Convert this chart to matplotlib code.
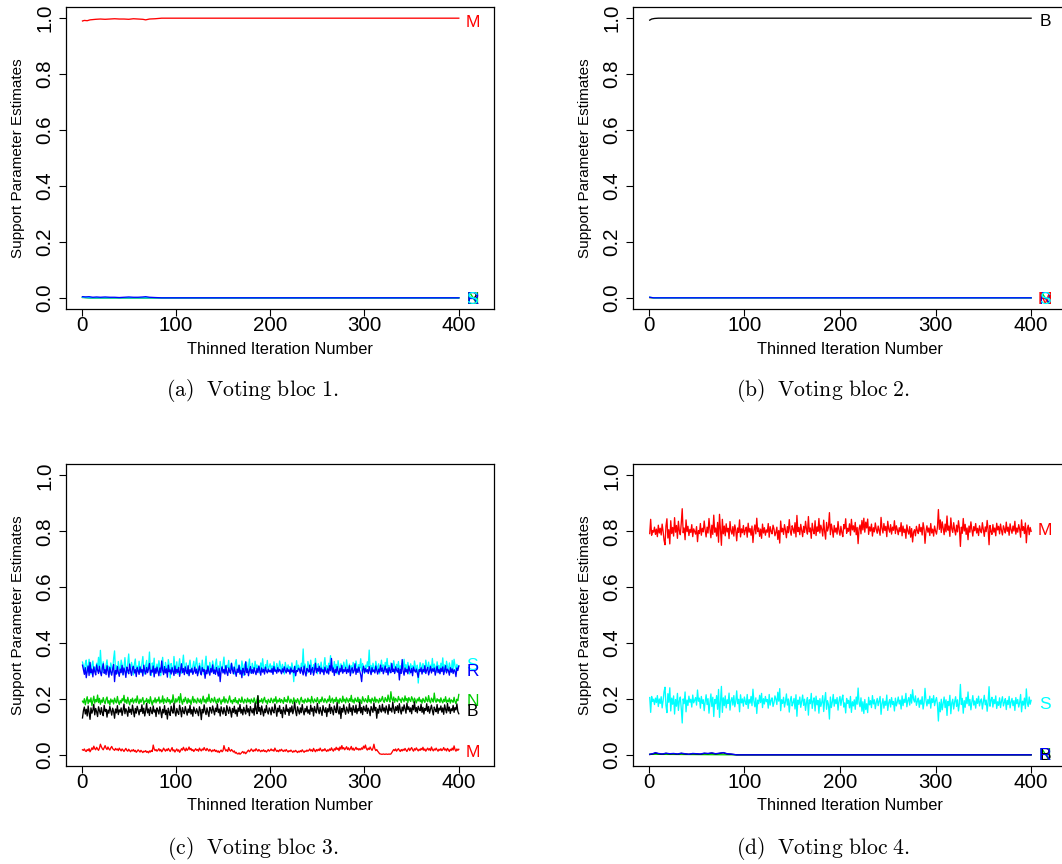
import numpy as np
import matplotlib
matplotlib.use('Agg')
import matplotlib.pyplot as plt
from matplotlib.ticker import FormatStrFormatter

plt.rcParams['font.family'] = ['Liberation Sans', 'DejaVu Sans']
plt.rcParams['mathtext.fontset'] = 'cm'

# ---------------- data ----------------
xticks = [0, 100, 200, 300, 400]
yticks = [0.0, 0.2, 0.4, 0.6, 0.8, 1.0]
xlabel = 'Thinned Iteration Number'
ylabel = 'Support Parameter Estimates'
captions = ['(a)\\ \\ Voting\\ bloc\\ 1.', '(b)\\ \\ Voting\\ bloc\\ 2.',
            '(c)\\ \\ Voting\\ bloc\\ 3.', '(d)\\ \\ Voting\\ bloc\\ 4.']
colors = {'B': '#000000', 'M': '#FF0000', 'N': '#00CD00', 'R': '#0000FF', 'S': '#00FFFF'}

# Panel (a): bloc 1 (near-constant traces, given at breakpoints)
a_M_x = [1, 3, 6, 9, 12, 15, 20, 25, 30, 35, 40, 45, 50, 55, 60, 65, 68, 72, 78, 85, 400]
a_M = [0.990, 0.992, 0.991, 0.994, 0.995, 0.996, 0.997, 0.996, 0.997, 0.998, 0.997,
       0.997, 0.996, 0.998, 0.997, 0.996, 0.994, 0.997, 0.998, 1.0, 1.0]
a_R_x = [1, 4, 8, 12, 16, 20, 25, 30, 35, 40, 45, 50, 55, 60, 65, 68, 72, 78, 85, 400]
a_R = [0.004, 0.003, 0.004, 0.002, 0.003, 0.002, 0.003, 0.002, 0.002, 0.001,
       0.002, 0.003, 0.002, 0.002, 0.003, 0.004, 0.002, 0.001, 0.0, 0.0]
a_low_x = [1, 10, 400]
a_B = [0.002, 0.0, 0.0]
a_N = [0.001, 0.0, 0.0]
a_S = [0.002, 0.0, 0.0]
a_labels_y = {'M': 0.991, 'B': 0.0, 'N': 0.0, 'R': 0.0, 'S': 0.0}

# Panel (b): bloc 2
b_B_x = [1, 3, 6, 10, 400]
b_B = [0.993, 0.997, 0.999, 1.0, 1.0]
b_low_x = [1, 5, 400]
b_M = [0.001, 0.0, 0.0]
b_N = [0.001, 0.0, 0.0]
b_S = [0.002, 0.0, 0.0]
b_R = [0.002, 0.0, 0.0]
b_labels_y = {'B': 0.9935, 'M': 0.0, 'N': 0.0, 'R': 0.0, 'S': 0.0}

# Panel (c): bloc 3 (400 thinned iterations each)
c_S = [0.332,0.318,0.301,0.327,0.339,0.296,0.315,0.342,0.308,0.289,0.321,0.336,0.302,0.314,0.295,0.328,0.311,0.349,0.299,0.374,
       0.318,0.296,0.333,0.307,0.291,0.322,0.340,0.303,0.317,0.288,0.329,0.311,0.296,0.345,0.372,0.305,0.319,0.292,0.334,0.310,
       0.301,0.339,0.322,0.287,0.315,0.348,0.306,0.293,0.326,0.361,0.309,0.297,0.331,0.314,0.286,0.324,0.343,0.302,0.318,0.299,
       0.335,0.311,0.294,0.327,0.352,0.305,0.289,0.321,0.338,0.297,0.316,0.368,0.302,0.284,0.329,0.313,0.346,0.291,0.308,0.325,
       0.298,0.337,0.315,0.283,0.322,0.349,0.306,0.294,0.331,0.312,0.290,0.341,0.319,0.275,0.327,0.308,0.296,0.352,0.314,0.301,
       0.333,0.289,0.318,0.344,0.305,0.292,0.326,0.357,0.311,0.297,0.329,0.303,0.286,0.321,0.339,0.308,0.294,0.317,0.335,0.300,
       0.323,0.347,0.309,0.291,0.328,0.314,0.296,0.339,0.306,0.287,0.322,0.353,0.304,0.319,0.293,0.331,0.310,0.298,0.336,0.315,
       0.291,0.325,0.343,0.302,0.318,0.288,0.334,0.309,0.297,0.326,0.350,0.305,0.293,0.321,0.312,0.338,0.295,0.317,0.329,0.303,
       0.314,0.289,0.327,0.341,0.306,0.295,0.322,0.311,0.298,0.336,0.318,0.284,0.325,0.307,0.332,0.296,0.316,0.343,0.301,0.292,
       0.328,0.312,0.297,0.335,0.309,0.322,0.300,0.317,0.293,0.329,0.306,0.344,0.313,0.296,0.323,0.310,0.338,0.299,0.315,0.326,
       0.304,0.319,0.291,0.333,0.311,0.298,0.327,0.315,0.302,0.336,0.318,0.295,0.324,0.307,0.289,0.331,0.313,0.300,0.322,0.308,
       0.316,0.294,0.329,0.311,0.262,0.318,0.305,0.337,0.299,0.321,0.310,0.296,0.328,0.314,0.379,0.302,0.325,0.308,0.291,0.334,
       0.317,0.300,0.339,0.312,0.295,0.323,0.306,0.345,0.311,0.290,0.326,0.315,0.301,0.332,0.309,0.296,0.321,0.348,0.305,0.319,
       0.293,0.328,0.312,0.355,0.304,0.318,0.297,0.334,0.309,0.324,0.290,0.337,0.314,0.301,0.326,0.311,0.295,0.332,0.316,0.303,
       0.340,0.312,0.298,0.325,0.307,0.319,0.293,0.331,0.315,0.302,0.336,0.318,0.296,0.323,0.310,0.344,0.300,0.327,0.313,0.291,
       0.321,0.306,0.333,0.316,0.375,0.302,0.320,0.295,0.328,0.311,0.297,0.335,0.318,0.304,0.326,0.290,0.312,0.339,0.307,0.322,
       0.299,0.331,0.315,0.345,0.306,0.320,0.293,0.329,0.313,0.301,0.337,0.317,0.296,0.324,0.309,0.334,0.302,0.319,0.292,0.327,
       0.314,0.342,0.305,0.323,0.296,0.331,0.311,0.289,0.326,0.308,0.319,0.300,0.336,0.314,0.298,0.321,0.257,0.305,0.330,0.316,
       0.303,0.327,0.312,0.295,0.339,0.318,0.306,0.332,0.299,0.321,0.310,0.345,0.302,0.325,0.314,0.296,0.333,0.309,0.320,0.292,
       0.328,0.311,0.347,0.304,0.322,0.298,0.335,0.316,0.301,0.329,0.313,0.295,0.338,0.307,0.342,0.319,0.300,0.324,0.309,0.318]
c_R = [0.321,0.305,0.288,0.312,0.276,0.299,0.318,0.284,0.331,0.294,0.307,0.279,0.315,0.298,0.286,0.322,0.303,0.291,0.317,0.296,
       0.283,0.310,0.326,0.292,0.305,0.287,0.319,0.301,0.278,0.313,0.297,0.285,0.308,0.323,0.262,0.302,0.289,0.316,0.296,0.281,
       0.307,0.294,0.320,0.286,0.311,0.299,0.277,0.314,0.303,0.290,0.325,0.298,0.284,0.309,0.317,0.293,0.305,0.280,0.312,0.301,
       0.288,0.315,0.296,0.306,0.282,0.321,0.300,0.289,0.313,0.294,0.308,0.327,0.285,0.303,0.296,0.318,0.279,0.309,0.292,0.314,
       0.299,0.283,0.311,0.295,0.336,0.302,0.287,0.316,0.293,0.308,0.278,0.321,0.297,0.304,0.289,0.312,0.299,0.284,0.318,0.291,
       0.306,0.295,0.313,0.281,0.302,0.326,0.294,0.309,0.287,0.315,0.300,0.291,0.319,0.283,0.305,0.296,0.310,0.288,0.298,0.314,
       0.292,0.307,0.283,0.301,0.318,0.295,0.286,0.312,0.299,0.305,0.274,0.303,0.290,0.317,0.298,0.285,0.309,0.296,0.322,0.291,
       0.304,0.288,0.313,0.297,0.282,0.309,0.262,0.301,0.315,0.293,0.306,0.289,0.319,0.296,0.284,0.311,0.300,0.292,0.327,0.303,
       0.290,0.314,0.298,0.281,0.307,0.295,0.320,0.289,0.303,0.276,0.310,0.297,0.286,0.333,0.294,0.308,0.283,0.301,0.316,0.292,
       0.305,0.291,0.312,0.298,0.287,0.309,0.294,0.318,0.302,0.285,0.311,0.296,0.306,0.289,0.314,0.300,0.293,0.307,0.297,0.303,
       0.295,0.309,0.288,0.316,0.299,0.304,0.292,0.312,0.297,0.306,0.301,0.290,0.308,0.296,0.315,0.302,0.293,0.310,0.298,0.305,
       0.289,0.311,0.297,0.303,0.294,0.316,0.283,0.302,0.298,0.310,0.306,0.292,0.313,0.300,0.286,0.318,0.295,0.282,0.309,0.303,
       0.296,0.321,0.288,0.306,0.312,0.285,0.302,0.328,0.294,0.309,0.299,0.317,0.290,0.311,0.297,0.305,0.287,0.314,0.300,0.293,
       0.308,0.289,0.319,0.301,0.345,0.296,0.311,0.284,0.306,0.294,0.316,0.300,0.287,0.309,0.297,0.320,0.292,0.305,0.298,0.313,
       0.291,0.306,0.296,0.319,0.283,0.304,0.312,0.293,0.301,0.326,0.288,0.308,0.295,0.314,0.299,0.286,0.262,0.303,0.317,0.294,
       0.309,0.297,0.305,0.291,0.316,0.300,0.287,0.312,0.298,0.304,0.293,0.318,0.302,0.289,0.307,0.296,0.321,0.299,0.311,0.290,
       0.304,0.318,0.295,0.308,0.286,0.313,0.301,0.294,0.327,0.298,0.307,0.291,0.315,0.303,0.296,0.310,0.268,0.306,0.292,0.341,
       0.299,0.285,0.311,0.297,0.306,0.290,0.318,0.301,0.294,0.309,0.283,0.314,0.302,0.296,0.307,0.292,0.277,0.305,0.298,0.312,
       0.289,0.306,0.297,0.319,0.291,0.304,0.313,0.286,0.300,0.316,0.293,0.308,0.299,0.311,0.285,0.302,0.317,0.294,0.306,0.290,
       0.310,0.298,0.315,0.287,0.304,0.319,0.293,0.307,0.301,0.285,0.312,0.296,0.308,0.291,0.305,0.299,0.280,0.311,0.302,0.318]
c_N = [0.192,0.186,0.201,0.179,0.195,0.208,0.183,0.197,0.189,0.204,0.176,0.193,0.210,0.185,0.198,0.190,0.214,0.187,0.202,0.181,
       0.196,0.188,0.205,0.191,0.183,0.199,0.207,0.185,0.194,0.178,0.200,0.189,0.196,0.182,0.203,0.192,0.186,0.209,0.190,0.180,
       0.195,0.186,0.201,0.193,0.213,0.188,0.197,0.184,0.206,0.191,0.179,0.198,0.190,0.203,0.185,0.194,0.200,0.187,0.211,0.192,
       0.183,0.199,0.188,0.196,0.205,0.181,0.193,0.190,0.202,0.186,0.197,0.184,0.208,0.191,0.178,0.195,0.189,0.204,0.186,0.198,
       0.192,0.207,0.185,0.196,0.189,0.211,0.183,0.200,0.194,0.187,0.205,0.190,0.198,0.182,0.196,0.188,0.215,0.193,0.185,0.201,
       0.189,0.197,0.208,0.186,0.219,0.193,0.181,0.199,0.190,0.206,0.195,0.184,0.202,0.188,0.197,0.180,0.194,0.209,0.187,0.199,
       0.191,0.185,0.203,0.194,0.188,0.200,0.183,0.196,0.210,0.189,0.198,0.185,0.204,0.191,0.217,0.193,0.187,0.202,0.195,0.189,
       0.206,0.192,0.184,0.199,0.188,0.203,0.194,0.181,0.197,0.190,0.208,0.186,0.200,0.193,0.185,0.198,0.211,0.189,0.195,0.183,
       0.198,0.190,0.205,0.187,0.194,0.182,0.201,0.193,0.188,0.207,0.191,0.185,0.199,0.194,0.186,0.203,0.190,0.197,0.184,0.200,
       0.193,0.188,0.204,0.191,0.183,0.198,0.210,0.187,0.195,0.190,0.201,0.185,0.197,0.206,0.189,0.194,0.182,0.199,0.192,0.187,
       0.203,0.194,0.186,0.200,0.191,0.208,0.185,0.196,0.190,0.202,0.187,0.198,0.193,0.184,0.205,0.191,0.197,0.188,0.210,0.195,
       0.186,0.199,0.192,0.183,0.204,0.190,0.196,0.187,0.201,0.193,0.181,0.197,0.206,0.189,0.195,0.185,0.200,0.192,0.188,0.203,
       0.191,0.197,0.185,0.209,0.193,0.186,0.200,0.194,0.189,0.205,0.192,0.184,0.198,0.190,0.207,0.195,0.188,0.201,0.193,0.186,
       0.199,0.192,0.211,0.187,0.196,0.203,0.185,0.198,0.191,0.206,0.189,0.197,0.184,0.202,0.194,0.188,0.210,0.192,0.199,0.186,
       0.204,0.195,0.188,0.201,0.192,0.213,0.189,0.197,0.185,0.203,0.194,0.190,0.206,0.187,0.199,0.193,0.184,0.208,0.196,0.190,
       0.201,0.194,0.187,0.212,0.190,0.198,0.185,0.203,0.195,0.191,0.207,0.188,0.199,0.194,0.186,0.202,0.191,0.197,0.209,0.193,
       0.188,0.205,0.196,0.191,0.214,0.197,0.189,0.226,0.200,0.193,0.207,0.188,0.202,0.195,0.190,0.209,0.196,0.199,0.187,0.204,
       0.198,0.190,0.211,0.194,0.202,0.187,0.205,0.196,0.191,0.208,0.199,0.188,0.203,0.194,0.186,0.200,0.193,0.206,0.190,0.197,
       0.185,0.202,0.194,0.188,0.207,0.196,0.190,0.212,0.193,0.186,0.203,0.197,0.189,0.221,0.195,0.188,0.201,0.192,0.198,0.187,
       0.204,0.193,0.186,0.199,0.191,0.208,0.187,0.196,0.190,0.203,0.185,0.197,0.193,0.188,0.206,0.191,0.183,0.199,0.194,0.216]
c_B = [0.132,0.158,0.171,0.146,0.163,0.139,0.175,0.152,0.127,0.168,0.149,0.160,0.181,0.143,0.166,0.154,0.137,0.172,0.158,0.145,
       0.169,0.151,0.140,0.177,0.156,0.163,0.135,0.160,0.149,0.173,0.158,0.142,0.167,0.155,0.131,0.164,0.150,0.176,0.144,0.161,
       0.153,0.168,0.141,0.159,0.182,0.147,0.165,0.156,0.138,0.171,0.152,0.163,0.145,0.178,0.157,0.136,0.166,0.149,0.174,0.160,
       0.143,0.162,0.155,0.179,0.148,0.167,0.139,0.158,0.184,0.150,0.164,0.141,0.170,0.156,0.147,0.175,0.153,0.161,0.137,0.168,
       0.159,0.146,0.172,0.155,0.133,0.163,0.150,0.176,0.144,0.160,0.128,0.167,0.152,0.141,0.174,0.158,0.149,0.185,0.154,0.139,
       0.166,0.152,0.145,0.178,0.160,0.136,0.169,0.155,0.147,0.173,0.158,0.142,0.164,0.151,0.177,0.146,0.162,0.138,0.171,0.157,
       0.148,0.165,0.154,0.140,0.172,0.159,0.126,0.163,0.150,0.179,0.156,0.144,0.168,0.153,0.137,0.170,0.161,0.149,0.175,0.158,
       0.143,0.167,0.155,0.182,0.151,0.164,0.139,0.172,0.157,0.146,0.169,0.154,0.141,0.176,0.160,0.148,0.171,0.157,0.135,0.166,
       0.152,0.174,0.147,0.161,0.138,0.168,0.155,0.180,0.149,0.163,0.143,0.170,0.157,0.146,0.178,0.153,0.165,0.140,0.173,0.159,
       0.150,0.166,0.142,0.186,0.161,0.147,0.212,0.156,0.169,0.144,0.175,0.158,0.139,0.164,0.151,0.177,0.155,0.146,0.168,0.160,
       0.143,0.171,0.157,0.150,0.182,0.163,0.138,0.167,0.154,0.176,0.148,0.161,0.133,0.170,0.158,0.145,0.179,0.156,0.164,0.141,
       0.169,0.153,0.175,0.147,0.162,0.188,0.155,0.140,0.172,0.159,0.146,0.168,0.151,0.180,0.157,0.143,0.166,0.154,0.174,0.149,
       0.161,0.145,0.178,0.156,0.167,0.139,0.173,0.158,0.150,0.184,0.162,0.147,0.170,0.155,0.141,0.176,0.160,0.152,0.169,0.137,
       0.165,0.154,0.181,0.148,0.170,0.159,0.143,0.175,0.162,0.151,0.187,0.157,0.146,0.172,0.130,0.166,0.153,0.179,0.158,0.145,
       0.171,0.160,0.149,0.183,0.155,0.168,0.142,0.176,0.161,0.152,0.178,0.147,0.165,0.157,0.189,0.150,0.169,0.144,0.174,0.163,
       0.156,0.178,0.148,0.167,0.159,0.140,0.173,0.163,0.152,0.186,0.158,0.170,0.131,0.164,0.149,0.177,0.160,0.153,0.181,0.157,
       0.168,0.150,0.175,0.162,0.145,0.180,0.158,0.167,0.153,0.189,0.164,0.148,0.172,0.159,0.176,0.151,0.183,0.160,0.146,0.171,
       0.157,0.179,0.164,0.149,0.185,0.162,0.172,0.154,0.168,0.147,0.177,0.161,0.190,0.155,0.169,0.150,0.174,0.163,0.158,0.181,
       0.152,0.170,0.146,0.166,0.159,0.183,0.155,0.173,0.149,0.164,0.178,0.158,0.143,0.171,0.161,0.154,0.180,0.148,0.167,0.160,
       0.175,0.153,0.168,0.145,0.179,0.162,0.150,0.184,0.157,0.171,0.148,0.165,0.158,0.177,0.152,0.169,0.161,0.182,0.155,0.147]
c_M = [0.018,0.016,0.021,0.014,0.012,0.019,0.015,0.022,0.011,0.017,0.025,0.019,0.031,0.022,0.018,0.027,0.021,0.016,0.024,0.038,
       0.029,0.022,0.018,0.026,0.033,0.024,0.019,0.028,0.021,0.017,0.025,0.030,0.022,0.019,0.016,0.023,0.018,0.021,0.015,0.024,
       0.019,0.014,0.021,0.017,0.012,0.018,0.023,0.016,0.013,0.020,0.015,0.011,0.017,0.014,0.019,0.012,0.016,0.009,0.013,0.018,
       0.014,0.010,0.016,0.012,0.008,0.013,0.011,0.015,0.009,0.012,0.007,0.014,0.010,0.016,0.012,0.035,0.021,0.015,0.019,0.013,
       0.017,0.022,0.014,0.019,0.011,0.016,0.024,0.018,0.013,0.020,0.015,0.023,0.017,0.012,0.019,0.026,0.014,0.018,0.010,0.016,
       0.021,0.013,0.018,0.009,0.015,0.022,0.017,0.027,0.019,0.014,0.024,0.016,0.020,0.028,0.018,0.023,0.015,0.019,0.012,0.017,
       0.022,0.016,0.019,0.013,0.024,0.018,0.014,0.021,0.017,0.026,0.019,0.015,0.023,0.018,0.013,0.020,0.016,0.011,0.017,0.014,
       0.019,0.012,0.016,0.010,0.014,0.008,0.013,0.017,0.011,0.015,0.033,0.021,0.014,0.018,0.012,0.026,0.017,0.013,0.019,0.015,
       0.010,0.014,0.006,0.009,0.004,0.003,0.007,0.002,0.005,0.009,0.012,0.006,0.010,0.004,0.008,0.013,0.017,0.011,0.015,0.021,
       0.016,0.012,0.018,0.014,0.022,0.017,0.013,0.019,0.015,0.011,0.016,0.013,0.018,0.012,0.015,0.010,0.014,0.019,0.013,0.016,
       0.021,0.015,0.018,0.013,0.024,0.017,0.012,0.016,0.011,0.018,0.014,0.020,0.015,0.012,0.017,0.013,0.019,0.014,0.010,0.015,
       0.012,0.017,0.013,0.009,0.014,0.011,0.016,0.012,0.008,0.013,0.010,0.015,0.011,0.018,0.013,0.009,0.014,0.012,0.017,0.013,
       0.016,0.021,0.014,0.018,0.012,0.023,0.016,0.011,0.019,0.014,0.020,0.015,0.024,0.017,0.013,0.019,0.015,0.022,0.016,0.012,
       0.018,0.014,0.021,0.016,0.025,0.018,0.013,0.022,0.017,0.027,0.019,0.024,0.015,0.028,0.020,0.033,0.021,0.026,0.018,0.023,
       0.029,0.019,0.025,0.017,0.022,0.030,0.018,0.024,0.016,0.021,0.027,0.019,0.023,0.017,0.022,0.018,0.025,0.020,0.031,0.024,
       0.035,0.022,0.017,0.024,0.019,0.028,0.021,0.016,0.023,0.038,0.022,0.015,0.019,0.013,0.009,0.004,0.003,0.002,0.002,0.003,
       0.002,0.002,0.003,0.002,0.002,0.003,0.002,0.003,0.008,0.014,0.019,0.015,0.021,0.013,0.018,0.022,0.016,0.012,0.019,0.014,
       0.020,0.016,0.023,0.017,0.012,0.019,0.024,0.015,0.021,0.026,0.018,0.013,0.022,0.017,0.025,0.019,0.014,0.020,0.016,0.023,
       0.018,0.027,0.016,0.021,0.013,0.019,0.024,0.017,0.022,0.015,0.028,0.019,0.014,0.021,0.017,0.024,0.018,0.013,0.020,0.016,
       0.022,0.015,0.019,0.026,0.017,0.021,0.014,0.023,0.018,0.012,0.020,0.016,0.024,0.017,0.032,0.019,0.013,0.021,0.016,0.020]
c_labels_y = {'S': 0.326, 'R': 0.3035, 'N': 0.196, 'B': 0.161, 'M': 0.0155}

# Panel (d): bloc 4
d_M = [0.792,0.843,0.786,0.803,0.797,0.815,0.789,0.808,0.781,0.822,0.794,0.811,0.787,0.826,0.800,0.768,0.752,0.819,0.845,0.776,
       0.806,0.755,0.838,0.792,0.814,0.783,0.849,0.797,0.821,0.775,0.836,0.802,0.788,0.829,0.881,0.795,0.812,0.770,0.841,0.799,
       0.818,0.785,0.807,0.796,0.824,0.781,0.809,0.800,0.790,0.817,0.763,0.803,0.792,0.828,0.786,0.811,0.798,0.837,0.805,0.780,
       0.815,0.794,0.846,0.808,0.777,0.822,0.789,0.858,0.797,0.812,0.783,0.832,0.761,0.861,0.806,0.750,0.843,0.791,0.819,0.784,
       0.827,0.798,0.811,0.774,0.835,0.802,0.790,0.817,0.783,0.823,0.805,0.766,0.812,0.796,0.841,0.780,0.809,0.795,0.821,0.788,
       0.804,0.815,0.779,0.829,0.797,0.810,0.786,0.819,0.760,0.803,0.823,0.791,0.847,0.799,0.812,0.782,0.808,0.775,0.826,0.794,
       0.813,0.786,0.805,0.797,0.828,0.779,0.817,0.800,0.791,0.822,0.809,0.784,0.796,0.815,0.771,0.803,0.758,0.837,0.798,0.811,
       0.789,0.824,0.805,0.777,0.817,0.795,0.842,0.801,0.786,0.820,0.808,0.793,0.831,0.780,0.857,0.799,0.814,0.788,0.825,0.804,
       0.781,0.818,0.796,0.836,0.807,0.790,0.853,0.798,0.812,0.775,0.829,0.803,0.791,0.838,0.785,0.816,0.800,0.846,0.794,0.822,
       0.807,0.783,0.840,0.799,0.772,0.832,0.801,0.815,0.867,0.788,0.826,0.806,0.779,0.821,0.797,0.812,0.790,0.835,0.803,0.786,
       0.818,0.796,0.781,0.824,0.809,0.845,0.793,0.811,0.800,0.827,0.786,0.843,0.805,0.820,0.798,0.832,0.788,0.814,0.756,0.809,
       0.823,0.791,0.839,0.805,0.847,0.797,0.833,0.812,0.844,0.789,0.816,0.801,0.826,0.783,0.813,0.798,0.830,0.807,0.793,0.819,
       0.802,0.786,0.850,0.811,0.794,0.828,0.803,0.818,0.781,0.836,0.809,0.797,0.824,0.790,0.815,0.804,0.838,0.792,0.820,0.806,
       0.788,0.813,0.799,0.831,0.784,0.819,0.796,0.808,0.775,0.823,0.801,0.790,0.817,0.779,0.810,0.762,0.797,0.806,0.784,0.818,
       0.803,0.792,0.825,0.799,0.814,0.787,0.831,0.809,0.757,0.800,0.820,0.797,0.812,0.785,0.828,0.794,0.808,0.783,0.819,0.801,
       0.790,0.815,0.878,0.807,0.841,0.796,0.834,0.811,0.788,0.826,0.798,0.855,0.804,0.819,0.782,0.848,0.809,0.796,0.831,0.805,
       0.787,0.822,0.798,0.838,0.810,0.746,0.815,0.793,0.846,0.801,0.825,0.789,0.812,0.770,0.819,0.797,0.834,0.806,0.783,0.817,
       0.802,0.828,0.794,0.811,0.785,0.820,0.803,0.795,0.831,0.807,0.782,0.816,0.799,0.839,0.806,0.752,0.821,0.800,0.789,0.824,
       0.797,0.812,0.784,0.829,0.805,0.818,0.791,0.826,0.803,0.787,0.820,0.808,0.794,0.833,0.800,0.815,0.786,0.827,0.806,0.793,
       0.819,0.801,0.836,0.790,0.812,0.797,0.824,0.808,0.779,0.841,0.803,0.817,0.792,0.830,0.759,0.809,0.822,0.788,0.814,0.800]
d_S = [0.205,0.152,0.209,0.191,0.199,0.180,0.203,0.187,0.212,0.173,0.200,0.184,0.208,0.168,0.194,0.226,0.242,0.176,0.151,0.219,
       0.188,0.240,0.157,0.203,0.181,0.211,0.146,0.198,0.174,0.220,0.159,0.193,0.207,0.166,0.114,0.200,0.183,0.225,0.154,0.196,
       0.177,0.210,0.188,0.199,0.171,0.214,0.186,0.195,0.205,0.178,0.232,0.192,0.203,0.167,0.209,0.184,0.197,0.158,0.190,0.215,
       0.180,0.201,0.149,0.187,0.218,0.173,0.206,0.137,0.198,0.183,0.212,0.163,0.234,0.134,0.189,0.245,0.152,0.204,0.176,0.211,
       0.168,0.197,0.184,0.221,0.160,0.193,0.205,0.178,0.212,0.172,0.190,0.229,0.183,0.199,0.154,0.215,0.186,0.200,0.174,0.207,
       0.191,0.180,0.216,0.166,0.198,0.185,0.209,0.176,0.235,0.192,0.172,0.204,0.148,0.196,0.183,0.213,0.187,0.220,0.169,0.201,
       0.182,0.209,0.190,0.198,0.167,0.216,0.178,0.195,0.204,0.173,0.186,0.211,0.199,0.180,0.224,0.192,0.237,0.158,0.197,0.184,
       0.206,0.171,0.190,0.218,0.178,0.200,0.153,0.194,0.209,0.175,0.187,0.202,0.164,0.215,0.138,0.196,0.181,0.207,0.170,0.191,
       0.214,0.177,0.199,0.159,0.188,0.205,0.142,0.197,0.183,0.220,0.166,0.192,0.204,0.157,0.210,0.179,0.195,0.149,0.201,0.173,
       0.188,0.212,0.155,0.196,0.223,0.163,0.194,0.180,0.128,0.207,0.169,0.189,0.216,0.174,0.198,0.183,0.205,0.160,0.192,0.209,
       0.177,0.199,0.214,0.171,0.186,0.150,0.202,0.184,0.195,0.168,0.209,0.152,0.190,0.175,0.197,0.163,0.207,0.181,0.239,0.186,
       0.172,0.204,0.156,0.190,0.148,0.198,0.162,0.183,0.151,0.206,0.179,0.194,0.169,0.212,0.182,0.197,0.165,0.188,0.202,0.176,
       0.193,0.209,0.145,0.184,0.201,0.167,0.192,0.177,0.214,0.159,0.186,0.198,0.171,0.205,0.180,0.191,0.157,0.203,0.175,0.189,
       0.207,0.182,0.196,0.164,0.211,0.176,0.199,0.187,0.220,0.172,0.194,0.205,0.178,0.216,0.185,0.233,0.198,0.189,0.211,0.177,
       0.192,0.203,0.170,0.196,0.181,0.208,0.164,0.186,0.238,0.195,0.175,0.198,0.183,0.210,0.167,0.201,0.187,0.212,0.176,0.194,
       0.205,0.180,0.121,0.188,0.154,0.199,0.161,0.184,0.207,0.169,0.197,0.141,0.191,0.176,0.213,0.147,0.186,0.199,0.164,0.190,
       0.208,0.173,0.197,0.157,0.185,0.252,0.180,0.202,0.149,0.194,0.170,0.206,0.183,0.225,0.176,0.198,0.161,0.189,0.212,0.178,
       0.193,0.167,0.201,0.184,0.210,0.175,0.192,0.200,0.164,0.188,0.213,0.179,0.196,0.156,0.189,0.244,0.174,0.195,0.206,0.171,
       0.198,0.183,0.211,0.166,0.190,0.177,0.204,0.169,0.192,0.208,0.175,0.187,0.201,0.162,0.195,0.180,0.209,0.168,0.189,0.202,
       0.176,0.194,0.159,0.205,0.183,0.198,0.171,0.187,0.216,0.154,0.192,0.178,0.203,0.165,0.236,0.186,0.173,0.207,0.181,0.195]
d_low_x = [1, 4, 7, 10, 14, 18, 22, 26, 30, 34, 38, 42, 46, 50, 54, 58, 62, 66, 70, 74, 78, 82, 86, 92, 400]
d_R = [0.002, 0.004, 0.008, 0.005, 0.003, 0.006, 0.004, 0.005, 0.003, 0.006, 0.004, 0.002, 0.005,
       0.004, 0.003, 0.006, 0.005, 0.007, 0.004, 0.006, 0.008, 0.004, 0.003, 0.0, 0.0]
d_B = [0.001, 0.003, 0.006, 0.004, 0.002, 0.005, 0.003, 0.004, 0.002, 0.005, 0.003, 0.002, 0.004,
       0.003, 0.002, 0.005, 0.004, 0.006, 0.003, 0.005, 0.007, 0.003, 0.002, 0.0, 0.0]
d_N_x = [1, 90, 400]
d_N = [0.002, 0.0, 0.0]
d_labels_y = {'M': 0.809, 'S': 0.1875, 'B': 0.0025, 'N': 0.0025, 'R': 0.0025}

# ---------------- figure ----------------
W, H = 1062, 864
fig = plt.figure(figsize=(W / 100, H / 100), dpi=100)


def add_axes(left, top, right, bottom):
    return fig.add_axes([left / W, 1 - bottom / H, (right - left) / W, (bottom - top) / H])


axA = add_axes(65.7, 7, 493.5, 309)
axB = add_axes(632.7, 7, 1066.3, 309)
axC = add_axes(65.7, 464.3, 493.5, 766)
axD = add_axes(632.7, 464.3, 1066.3, 766)

LW = 0.95
LABEL_X = 414.5


def style(ax, width_px):
    ax.set_xlim(-16.8, 436.8)
    ax.set_ylim(-0.04, 1.04)
    ax.set_xticks(xticks)
    ax.set_yticks(yticks)
    ax.yaxis.set_major_formatter(FormatStrFormatter('%.1f'))
    ax.tick_params(direction='out', length=5, width=0.8, labelsize=14.8, color='black')
    ax.tick_params(axis='x', pad=0.3)
    ax.tick_params(axis='y', pad=3.0, labelrotation=90)
    for lab in ax.get_yticklabels():
        lab.set_verticalalignment('center')
    for sp in ax.spines.values():
        sp.set_linewidth(0.9)
    ax.set_xlabel(xlabel, fontsize=11.8)
    ax.xaxis.set_label_coords(0.5, -40.0 / 302.0)
    ax.xaxis.label.set_verticalalignment('center')
    ax.set_ylabel(ylabel, fontsize=11)
    ax.yaxis.set_label_coords(-47.5 / width_px, 0.5)
    ax.yaxis.label.set_verticalalignment('center')


def put_labels(ax, ys, order):
    for k in order:
        ax.text(LABEL_X, ys[k] - 0.006, k, color=colors[k], fontsize=12.5,
                ha='center', va='center')


# (a)
axA.plot(a_low_x, a_B, color=colors['B'], lw=LW)
axA.plot(a_low_x, a_N, color=colors['N'], lw=LW)
axA.plot(a_low_x, a_S, color=colors['S'], lw=LW)
axA.plot(a_R_x, a_R, color=colors['R'], lw=LW)
axA.plot(a_M_x, a_M, color=colors['M'], lw=LW)
style(axA, 427.8)
put_labels(axA, a_labels_y, ['B', 'N', 'R', 'S', 'M'])

# (b)
axB.plot(b_low_x, b_M, color=colors['M'], lw=LW)
axB.plot(b_low_x, b_N, color=colors['N'], lw=LW)
axB.plot(b_low_x, b_S, color=colors['S'], lw=LW)
axB.plot(b_low_x, b_R, color=colors['R'], lw=LW)
axB.plot(b_B_x, b_B, color=colors['B'], lw=LW)
style(axB, 433.6)
put_labels(axB, b_labels_y, ['N', 'R', 'M', 'S', 'B'])

# (c)
axC.plot(np.arange(1, len(c_S) + 1), c_S, color=colors['S'], lw=LW)
axC.plot(np.arange(1, len(c_R) + 1), c_R, color=colors['R'], lw=LW)
axC.plot(np.arange(1, len(c_N) + 1), c_N, color=colors['N'], lw=LW)
axC.plot(np.arange(1, len(c_B) + 1), c_B, color=colors['B'], lw=LW)
axC.plot(np.arange(1, len(c_M) + 1), c_M, color=colors['M'], lw=LW)
style(axC, 427.8)
put_labels(axC, c_labels_y, ['S', 'R', 'N', 'B', 'M'])

# (d)
axD.plot(np.arange(1, len(d_M) + 1), d_M, color=colors['M'], lw=LW)
axD.plot(np.arange(1, len(d_S) + 1), d_S, color=colors['S'], lw=LW)
axD.plot(d_N_x, d_N, color=colors['N'], lw=LW)
axD.plot(d_low_x, d_B, color=colors['B'], lw=LW)
axD.plot(d_low_x, d_R, color=colors['R'], lw=LW)
style(axD, 433.6)
put_labels(axD, d_labels_y, ['M', 'S', 'N', 'B', 'R'])

# captions
cap_pos = [(252, 391), (823, 391), (253, 849), (823, 849)]
for (cx, cy), txt in zip(cap_pos, captions):
    fig.text(cx / W, 1 - cy / H, r'$\mathrm{' + txt + '}$', ha='center', va='center',
             fontsize=15.6)

fig.savefig('out.png', dpi=100)
